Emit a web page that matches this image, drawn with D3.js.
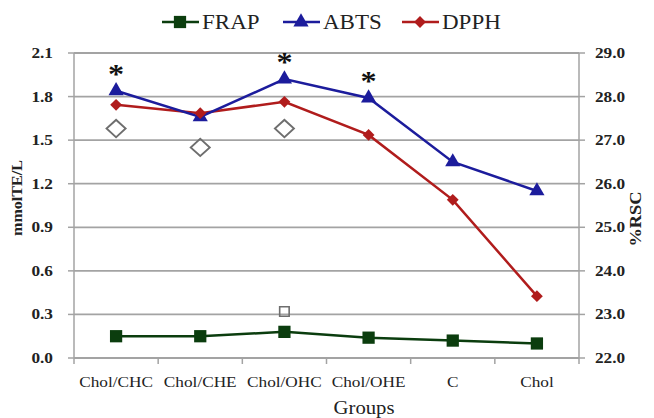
<!DOCTYPE html>
<html>
<head>
<meta charset="utf-8">
<script src="https://cdn.jsdelivr.net/npm/d3@7"></script>
<style>
  body { margin: 0; background: #fff; }
  text { font-family: "Liberation Serif", "Times New Roman", serif; fill: #222; }
</style>
</head>
<body>
<svg id="chart"></svg>
<script>
const groups = ["Chol/CHC", "Chol/CHE", "Chol/OHC", "Chol/OHE", "C", "Chol"];
const frap = [0.15, 0.15, 0.18, 0.14, 0.12, 0.10];
const abts = [1.84, 1.66, 1.92, 1.79, 1.35, 1.15];
const dpph = [27.81, 27.62, 27.88, 27.12, 25.63, 23.42];
const openDiamonds = [1.58, 1.45, 1.58, null, null, null];
const openSquares = [null, null, 0.32, null, null, null];
const starred = ["Chol/CHC", "Chol/OHC", "Chol/OHE"];
const leftTicks = [0, 0.3, 0.6, 0.9, 1.2, 1.5, 1.8, 2.1];
const rightTicks = [22, 23, 24, 25, 26, 27, 28, 29];

const width = 654, height = 418;
const margin = { top: 53, right: 75, bottom: 60, left: 74 };
const stretch = 1.15;

const svg = d3.select("#chart").attr("width", width).attr("height", height);

const x = d3.scaleBand().domain(groups).range([margin.left, width - margin.right]);
const cx = (d) => x(d) + x.bandwidth() / 2;
const yL = d3.scaleLinear().domain([0, 2.1]).range([height - margin.bottom, margin.top]);
const yR = d3.scaleLinear().domain([22, 29]).range([height - margin.bottom, margin.top]);

const colors = { FRAP: "#0b3d0e", ABTS: "#1c1c9c", DPPH: "#b01c1c" };
const grid = "#a3a3a3";

function label(parent, px, py, txt, size, weight, anchor, rotate) {
  return parent.append("text")
    .attr("transform", `translate(${px},${py})${rotate ? ` rotate(${rotate})` : ""} scale(${stretch},1)`)
    .attr("text-anchor", anchor || "middle")
    .style("font-size", size + "px")
    .style("font-weight", weight || "normal")
    .text(txt);
}

// gridlines
svg.append("g").selectAll("line").data(leftTicks).join("line")
  .attr("x1", margin.left).attr("x2", width - margin.right)
  .attr("y1", (d) => yL(d)).attr("y2", (d) => yL(d))
  .attr("stroke", grid).attr("stroke-width", 1.8);

// axes lines
const axes = svg.append("g").attr("stroke", grid).attr("stroke-width", 1.5);
axes.append("line").attr("x1", margin.left).attr("x2", margin.left)
  .attr("y1", yL(0)).attr("y2", yL(2.1));
axes.append("line").attr("x1", width - margin.right).attr("x2", width - margin.right)
  .attr("y1", yR(22)).attr("y2", yR(29));
axes.append("line").attr("x1", margin.left).attr("x2", width - margin.right)
  .attr("y1", yL(0)).attr("y2", yL(0));
axes.selectAll(".lt").data(leftTicks).join("line").attr("class", "lt")
  .attr("x1", margin.left - 6).attr("x2", margin.left)
  .attr("y1", (d) => yL(d)).attr("y2", (d) => yL(d));
axes.selectAll(".rt").data(rightTicks).join("line").attr("class", "rt")
  .attr("x1", width - margin.right).attr("x2", width - margin.right + 6)
  .attr("y1", (d) => yR(d)).attr("y2", (d) => yR(d));
const edges = groups.map((g) => x(g)).concat([x.range()[1]]);
axes.selectAll(".bt").data(edges).join("line").attr("class", "bt")
  .attr("x1", (d) => d).attr("x2", (d) => d)
  .attr("y1", yL(0)).attr("y2", yL(0) + 6);

// tick labels
leftTicks.forEach((t) => label(svg, 53, yL(t) + 5, d3.format(".1f")(t), 15, "bold", "end"));
rightTicks.forEach((t) => label(svg, 595, yR(t) + 5, d3.format(".1f")(t), 15, "bold", "start"));
groups.forEach((g) => label(svg, cx(g), 387, g, 15, "normal", "middle"));

// axis titles
label(svg, 364, 414, "Groups", 18, "normal", "middle");
label(svg, 22, 198, "mmolTE/L", 14, "bold", "middle", -90);
label(svg, 641, 219, "%RSC", 16, "bold", "middle", -90);

// series
const line = (ys, vals) => d3.line().x((d, i) => cx(groups[i])).y((d) => ys(d))(vals);
svg.append("path").attr("d", line(yL, frap)).attr("fill", "none")
  .attr("stroke", colors.FRAP).attr("stroke-width", 2.5);
svg.append("path").attr("d", line(yR, dpph)).attr("fill", "none")
  .attr("stroke", colors.DPPH).attr("stroke-width", 2.5);
svg.append("path").attr("d", line(yL, abts)).attr("fill", "none")
  .attr("stroke", colors.ABTS).attr("stroke-width", 2.5);

const sq = d3.symbol(d3.symbolSquare, 150);
const tri = d3.symbol(d3.symbolTriangle, 100);
const dia = d3.symbol(d3.symbolSquare, 70);

svg.append("g").selectAll("path").data(frap).join("path")
  .attr("d", sq).attr("fill", colors.FRAP)
  .attr("transform", (d, i) => `translate(${cx(groups[i])},${yL(d)})`);
svg.append("g").selectAll("path").data(abts).join("path")
  .attr("d", tri).attr("fill", colors.ABTS)
  .attr("transform", (d, i) => `translate(${cx(groups[i])},${yL(d)})`);
svg.append("g").selectAll("path").data(dpph).join("path")
  .attr("d", dia).attr("fill", colors.DPPH)
  .attr("transform", (d, i) => `translate(${cx(groups[i])},${yR(d)}) rotate(45)`);

// open markers
svg.append("g").selectAll("path")
  .data(openDiamonds.map((v, i) => ({ v, g: groups[i] })).filter((d) => d.v != null))
  .join("path")
  .attr("d", d3.symbol(d3.symbolSquare, 150)).attr("fill", "none")
  .attr("stroke", "#6e6e6e").attr("stroke-width", 1.8)
  .attr("transform", (d) => `translate(${cx(d.g)},${yL(d.v)}) scale(1.1,1) rotate(45)`);
svg.append("g").selectAll("rect")
  .data(openSquares.map((v, i) => ({ v, g: groups[i] })).filter((d) => d.v != null))
  .join("path")
  .attr("d", d3.symbol(d3.symbolSquare, 90)).attr("fill", "none")
  .attr("stroke", "#6e6e6e").attr("stroke-width", 1.6)
  .attr("transform", (d) => `translate(${cx(d.g)},${yL(d.v)})`);

// significance stars
starred.forEach((g) => {
  const i = groups.indexOf(g);
  label(svg, cx(g), yL(abts[i]) - 20 + 12, "*", 28, "bold", "middle").style("fill", "#111");
});

// legend
const legend = svg.append("g");
const items = [
  { name: "FRAP", x0: 162, sym: sq },
  { name: "ABTS", x0: 283, sym: tri },
  { name: "DPPH", x0: 402, sym: dia },
];
items.forEach((it) => {
  legend.append("line").attr("x1", it.x0).attr("x2", it.x0 + 37)
    .attr("y1", 22).attr("y2", 22)
    .attr("stroke", colors[it.name]).attr("stroke-width", 2.5);
  legend.append("path").attr("d", it.sym).attr("fill", colors[it.name])
    .attr("transform", `translate(${it.x0 + 18},22)${it.name === "DPPH" ? " rotate(45)" : ""}`);
  label(legend, it.x0 + 40, 29, it.name, 20, "normal", "start");
});
</script>
</body>
</html>
